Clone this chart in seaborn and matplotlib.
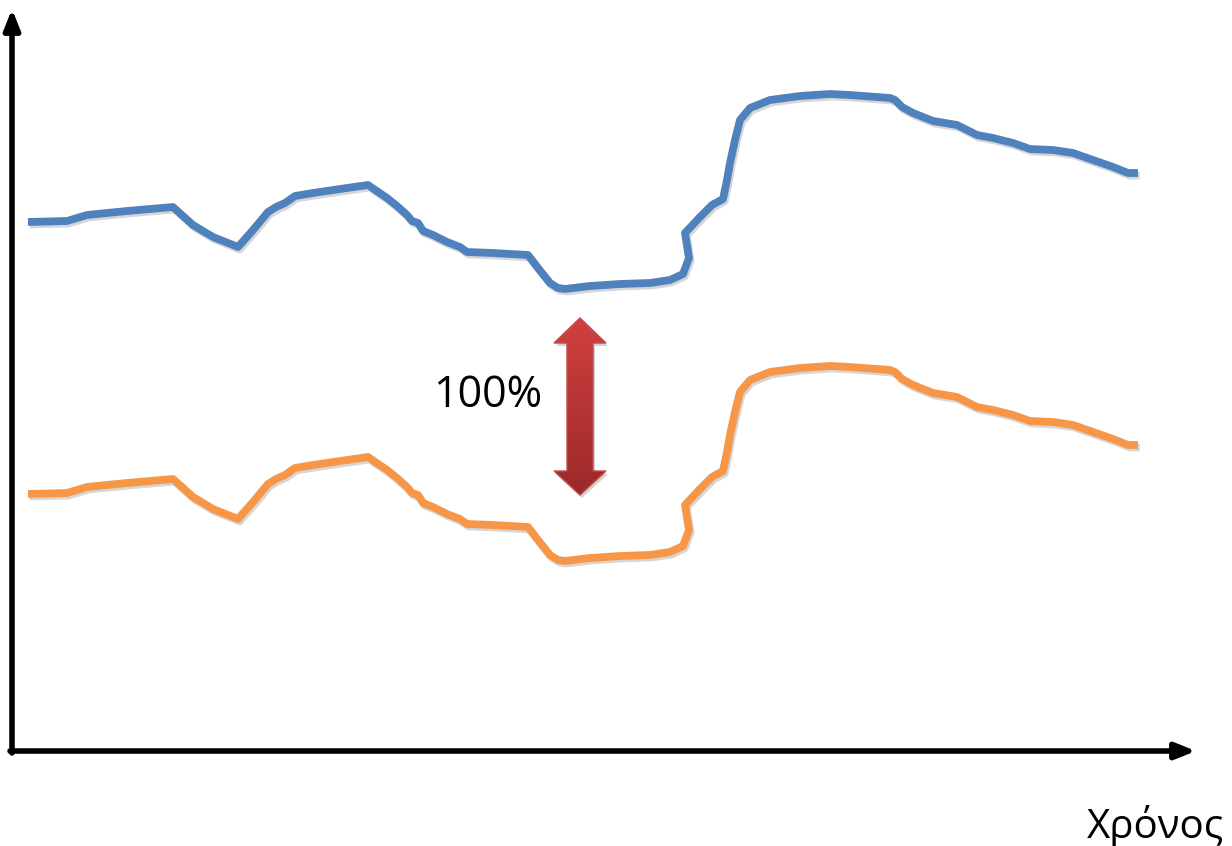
import numpy as np
import pandas as pd
import matplotlib
matplotlib.use("Agg")
import matplotlib.pyplot as plt
import matplotlib.patheffects as pe
from matplotlib.patches import Polygon
import seaborn as sns

time = [28, 67, 87, 127, 173, 193, 213, 238, 253, 268, 276, 285, 295, 313, 347, 368,
        387, 397, 407, 412, 418, 423, 433, 447, 460, 467, 493, 528, 538, 550, 558, 565,
        590, 620, 650, 670, 683, 689, 685, 700, 712, 723, 727, 730, 735, 740, 750, 770,
        800, 830, 850, 890, 895, 902, 913, 933, 957, 963, 977, 993, 1013, 1030, 1053,
        1073, 1093, 1113, 1128, 1138]
blue_series = [222, 221, 215, 211, 207, 225, 237, 247, 230, 212, 207, 203, 196, 193, 188, 185,
               198, 206, 215, 221, 223, 231, 235, 242, 247, 252, 253, 255, 268, 283, 288, 289,
               286, 284, 283, 280, 274, 258, 233, 217, 205, 199, 180, 163, 140, 120, 108, 100,
               96, 94, 95, 98, 100, 107, 113, 121, 125, 128, 135, 138, 143, 149, 150,
               153, 160, 167, 173, 173]
orange_series = [494, 493, 487, 483, 479, 497, 509, 519, 502, 484, 479, 475, 468, 465, 460, 457,
                 470, 478, 487, 493, 495, 503, 507, 514, 519, 524, 525, 527, 540, 555, 560, 561,
                 558, 556, 555, 552, 546, 530, 505, 489, 477, 471, 452, 435, 412, 392, 380, 372,
                 368, 366, 367, 370, 372, 379, 385, 393, 397, 400, 407, 410, 415, 421, 422,
                 425, 432, 439, 445, 445]
series_names = ["A", "B"]
gap_label = "100%"
x_label = "Χρόνος"

colors = {"A": "#4F81BD", "B": "#F79646"}

sns.set_theme(style="white")
plt.rcParams["font.family"] = ["Open Sans", "DejaVu Sans"]

df = pd.concat([
    pd.DataFrame({"time": time, "value": blue_series, "series": series_names[0]}),
    pd.DataFrame({"time": time, "value": orange_series, "series": series_names[1]}),
], ignore_index=True)

W, H = 1232, 846
fig = plt.figure(figsize=(W / 100, H / 100), dpi=100)
ax = fig.add_axes([0, 0, 1, 1])

sns.lineplot(data=df, x="time", y="value", hue="series", palette=colors,
             sort=False, estimator=None, linewidth=5.6, legend=False, ax=ax)
for ln in ax.lines:
    ln.set_solid_joinstyle("round")
    ln.set_solid_capstyle("butt")
    ln.set_path_effects([pe.SimpleLineShadow(offset=(1.2, -1.8), shadow_color="black",
                                             alpha=0.16), pe.Normal()])

# ---- double-headed gradient arrow ----
verts = [(580, 318), (606, 343), (593, 343), (593, 471), (606, 471), (580, 495),
         (554, 471), (567, 471), (567, 343), (554, 343)]
shadow = Polygon([(x + 2, y + 3) for x, y in verts], closed=True,
                 facecolor="black", edgecolor="none", alpha=0.18, zorder=3)
ax.add_patch(shadow)
poly = Polygon(verts, closed=True, facecolor="none", edgecolor="#C24A4A", lw=1.0, zorder=5)
ax.add_patch(poly)
top = np.array([0.82, 0.25, 0.25])
bot = np.array([0.61, 0.16, 0.16])
t = np.linspace(0, 1, 200)[:, None, None]
grad = top * (1 - t) + bot * t
im = ax.imshow(grad, extent=[554, 606, 495, 318], origin="upper", aspect="auto", zorder=4)
im.set_clip_path(poly)

ax.text(433, 407, gap_label, fontsize=31, ha="left", va="baseline", color="black")

# ---- axes with arrowheads ----
arrow_kw = dict(arrowstyle="-|>,head_length=0.4,head_width=0.16", mutation_scale=30,
                lw=4, color="black", shrinkA=0, shrinkB=0)
ax.annotate("", xy=(12, 9), xytext=(12, 753), xycoords="data", arrowprops=arrow_kw)
ax.annotate("", xy=(1196, 751), xytext=(10, 751), xycoords="data", arrowprops=arrow_kw)

ax.text(1087, 838, x_label, fontsize=29, ha="left", va="baseline", color="black")

ax.set_xlim(0, W)
ax.set_ylim(H, 0)
ax.axis("off")

fig.savefig("out.png", dpi=100)
